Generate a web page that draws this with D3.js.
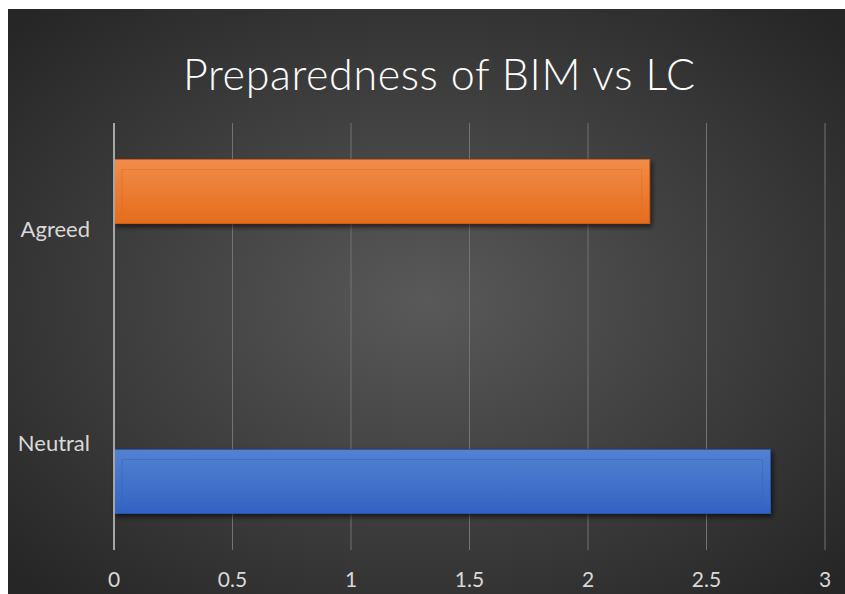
<!DOCTYPE html>
<html>
<head>
<meta charset="utf-8">
<script src="https://cdn.jsdelivr.net/npm/d3@7"></script>
<style>
  body { margin: 0; background: #fff; }
  svg text { font-family: Lato, "Open Sans", sans-serif; }
</style>
</head>
<body>
<div id="chart"></div>
<script>
// chart values
let categories = ["Agreed", "Neutral"]
let seriesNames = ["Series2", "Series1"]   // orange drawn on top of each band, blue below
let series1 = [null, 2.77]   // blue
let series2 = [2.26, null]   // orange
let xTicks = [0, 0.5, 1, 1.5, 2, 2.5, 3]

let width = 845, height = 594

var svg = d3.select("#chart").append("svg")
    .attr("width", width)
    .attr("height", height);

var defs = svg.append("defs");

// dark radial background like the Excel style
var bg = defs.append("radialGradient").attr("id", "bg")
    .attr("cx", "50%").attr("cy", "50%").attr("r", "68%");
bg.append("stop").attr("offset", "0%").attr("stop-color", "#595959");
bg.append("stop").attr("offset", "100%").attr("stop-color", "#262626");

function barGrad(id, top, bottom) {
  var g = defs.append("linearGradient").attr("id", id)
      .attr("x1", 0).attr("y1", 0).attr("x2", 0).attr("y2", 1);
  g.append("stop").attr("offset", "0%").attr("stop-color", top);
  g.append("stop").attr("offset", "100%").attr("stop-color", bottom);
}
barGrad("gOrange", "#f28c4a", "#e56c1c");
barGrad("gBlue", "#5382d2", "#3163c2");

var shadow = defs.append("filter").attr("id", "shadow")
    .attr("x", "-5%").attr("y", "-20%").attr("width", "115%").attr("height", "160%");
shadow.append("feDropShadow").attr("dx", 2).attr("dy", 3).attr("stdDeviation", 2.5)
    .attr("flood-color", "#000").attr("flood-opacity", 0.6);

svg.append("rect")
    .attr("x", 8).attr("y", 9)
    .attr("width", width - 8).attr("height", height - 9)
    .attr("fill", "url(#bg)");

// title
svg.append("text")
    .attr("x", 439).attr("y", 90)
    .attr("text-anchor", "middle")
    .attr("fill", "#ffffff")
    .style("font-size", "43px")
    .style("font-weight", 300)
    .attr("textLength", 512)
    .text("Preparedness of BIM vs LC");

var plotTop = 123, plotBottom = 550;

var xScale = d3.scaleLinear()
  .domain([0, 3])
  .range([114, 825]);

var yScale = d3.scaleBand()
  .domain(categories)
  .range([plotTop, plotBottom]);

var ySub = d3.scaleBand()
  .domain(seriesNames)
  .range([0, yScale.bandwidth()])
  .paddingInner(0.163)
  .paddingOuter(0.477);

// vertical gridlines
svg.append("g")
  .selectAll("line")
  .data(xTicks.slice(1))
  .join("line")
  .attr("x1", d => xScale(d)).attr("x2", d => xScale(d))
  .attr("y1", plotTop).attr("y2", plotBottom)
  .attr("stroke", "#737373")
  .attr("stroke-width", 1);

// bars
let seriesData = [
  { name: "Series1", values: series1, fill: "url(#gBlue)", edge: "#2a55a8", inner: "#3a66b8" },
  { name: "Series2", values: series2, fill: "url(#gOrange)", edge: "#c95f17", inner: "#dc6f25" }
];

seriesData.forEach(s => {
  let rows = categories.map((c, i) => ({ cat: c, value: s.values[i] })).filter(d => d.value != null);
  let g = svg.append("g");
  rows.forEach(d => {
    let x0 = xScale(0), x1 = xScale(d.value);
    let y = yScale(d.cat) + ySub(s.name), h = ySub.bandwidth();
    g.append("rect")
      .attr("x", x0).attr("y", y)
      .attr("width", x1 - x0).attr("height", h)
      .attr("fill", s.fill)
      .attr("stroke", s.edge).attr("stroke-width", 1)
      .attr("filter", "url(#shadow)");
    // inner bevel line
    g.append("rect")
      .attr("x", x0 + 8).attr("y", y + 10)
      .attr("width", x1 - x0 - 16).attr("height", h - 20)
      .attr("fill", "none")
      .attr("stroke", s.inner).attr("stroke-width", 1)
      .attr("opacity", 0.6);
  });
});

// zero axis line
svg.append("line")
  .attr("x1", xScale(0)).attr("x2", xScale(0))
  .attr("y1", plotTop).attr("y2", plotBottom)
  .attr("stroke", "#a6a6a6")
  .attr("stroke-width", 2);

// x tick labels
svg.append("g")
  .selectAll("text")
  .data(xTicks)
  .join("text")
  .attr("x", d => xScale(d))
  .attr("y", 587)
  .attr("text-anchor", "middle")
  .attr("fill", "#d9d9d9")
  .style("font-size", "21px")
  .text(d => d3.format("")(d));

// category labels
svg.append("g")
  .selectAll("text")
  .data(categories)
  .join("text")
  .attr("x", 90)
  .attr("y", d => yScale(d) + yScale.bandwidth() / 2)
  .attr("dy", "0.35em")
  .attr("text-anchor", "end")
  .attr("fill", "#d9d9d9")
  .style("font-size", "22px")
  .text(d => d);
</script>
</body>
</html>
